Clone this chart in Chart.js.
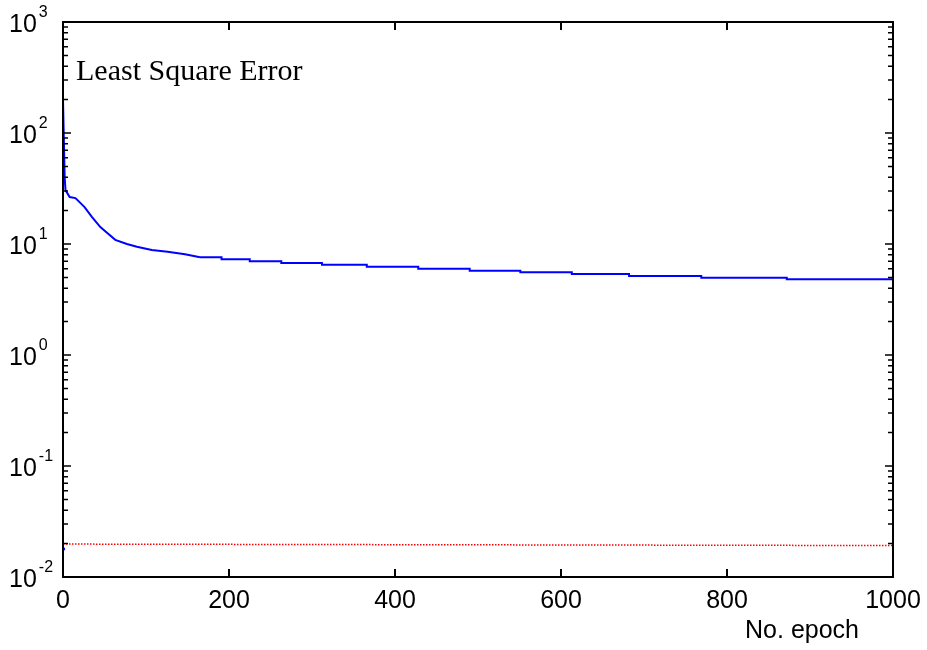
<!DOCTYPE html>
<html>
<head>
<meta charset="utf-8">
<script src="https://cdn.jsdelivr.net/npm/chart.js@4"></script>
<style>
  html, body { margin: 0; padding: 0; background: #fff; }
  canvas { display: block; }
</style>
</head>
<body>
<canvas id="lseChart" width="927" height="650"></canvas>
<script>
// early descent of the error curve (smooth part)
const earlyEpochs = [0, 2, 3, 8, 15, 26, 35, 45, 53, 63, 77, 89, 107, 126, 147, 165];
const earlyLse = [198, 40, 30.6, 26.5, 25.9, 21.5, 17.5, 14.2, 12.6, 10.9, 10.0, 9.46, 8.83, 8.53, 8.07, 7.59];

// plateau, drawn as steps (value starts at that epoch)
const stepEpochs = [165, 191, 225, 263, 312, 366, 428, 490, 551, 613, 682, 769, 872, 1000];
const stepLse = [7.59, 7.28, 6.98, 6.74, 6.51, 6.24, 5.99, 5.74, 5.56, 5.37, 5.15, 4.97, 4.81, 4.81];

// target line (red dotted)
const goalEpochs = [0, 1000];
const goalLse = [0.0198, 0.0192];

// lone blue point near epoch 0
const startEpochs = [0.5];
const startLse = [0.0179];

const xTicks = [0, 200, 400, 600, 800, 1000];
const yTickExps = [-2, -1, 0, 1, 2, 3];

const pts = (xs, ys) => xs.map((x, i) => ({ x: x, y: ys[i] }));

const SANS = '"Liberation Sans", Arial, sans-serif';

// frame, inward ticks and tick labels
const axesPlugin = {
  id: 'matlabAxes',
  afterDraw(chart) {
    const ctx = chart.ctx;
    const a = chart.chartArea;
    const xs = chart.scales.x;
    const ys = chart.scales.y;
    ctx.save();
    ctx.strokeStyle = '#000';
    ctx.lineWidth = 2;
    ctx.strokeRect(a.left, a.top, a.right - a.left, a.bottom - a.top);

    ctx.beginPath();
    xTicks.forEach(v => {
      const px = xs.getPixelForValue(v);
      ctx.moveTo(px, a.bottom); ctx.lineTo(px, a.bottom - 8);
      ctx.moveTo(px, a.top); ctx.lineTo(px, a.top + 8);
    });
    ctx.stroke();

    ctx.lineWidth = 1.5;
    ctx.beginPath();
    yTickExps.forEach(e => {
      const py = ys.getPixelForValue(Math.pow(10, e));
      ctx.moveTo(a.left, py); ctx.lineTo(a.left + 8, py);
      ctx.moveTo(a.right, py); ctx.lineTo(a.right - 8, py);
      if (e < 3) {
        for (let m = 2; m <= 9; m++) {
          const pm = ys.getPixelForValue(m * Math.pow(10, e));
          ctx.moveTo(a.left, pm); ctx.lineTo(a.left + 5, pm);
          ctx.moveTo(a.right, pm); ctx.lineTo(a.right - 5, pm);
        }
      }
    });
    ctx.stroke();

    ctx.fillStyle = '#000';
    ctx.font = '25px ' + SANS;
    ctx.textAlign = 'center';
    ctx.textBaseline = 'middle';
    xTicks.forEach(v => {
      ctx.fillText(String(v), xs.getPixelForValue(v), a.bottom + 24);
    });

    ctx.textAlign = 'left';
    yTickExps.forEach(e => {
      const py = ys.getPixelForValue(Math.pow(10, e));
      ctx.font = '25px ' + SANS;
      ctx.textBaseline = 'middle';
      ctx.fillText('10', 9, py + 3);
      const w = ctx.measureText('10').width;
      ctx.font = '16px ' + SANS;
      ctx.textBaseline = 'alphabetic';
      ctx.fillText(String(e), 9 + w + 2, py - 5);
    });

    ctx.font = '25px ' + SANS;
    ctx.textAlign = 'right';
    ctx.textBaseline = 'middle';
    ctx.fillText('No. epoch', 859, 631);

    ctx.font = '30px "Liberation Serif", "Times New Roman", serif';
    ctx.textAlign = 'left';
    ctx.textBaseline = 'alphabetic';
    ctx.fillText('Least Square Error', a.left + 13, 80);
    ctx.restore();
  }
};

const ctx = document.getElementById('lseChart').getContext('2d');
new Chart(ctx, {
  type: 'line',
  data: {
    datasets: [
      {
        data: pts(earlyEpochs, earlyLse),
        borderColor: 'rgb(0,0,255)',
        borderWidth: 2,
        pointRadius: 0,
        tension: 0
      },
      {
        data: pts(stepEpochs, stepLse),
        borderColor: 'rgb(0,0,255)',
        borderWidth: 2,
        pointRadius: 0,
        stepped: 'before'
      },
      {
        data: pts(goalEpochs, goalLse),
        borderColor: 'rgb(255,0,0)',
        borderWidth: 1.5,
        borderDash: [1.5, 1.5],
        pointRadius: 0
      },
      {
        data: pts(startEpochs, startLse),
        showLine: false,
        pointRadius: 1.8,
        pointBorderWidth: 0,
        pointBackgroundColor: 'rgb(0,0,255)',
        borderColor: 'rgb(0,0,255)'
      }
    ]
  },
  options: {
    responsive: false,
    animation: false,
    layout: { padding: { left: 63, right: 34, top: 22, bottom: 73 } },
    plugins: {
      legend: { display: false },
      tooltip: { enabled: false }
    },
    scales: {
      x: {
        type: 'linear',
        min: 0,
        max: 1000,
        grid: { display: false, drawTicks: false },
        border: { display: false },
        ticks: { display: false },
        afterFit: s => { s.height = 0; }
      },
      y: {
        type: 'logarithmic',
        min: 0.01,
        max: 1000,
        grid: { display: false, drawTicks: false },
        border: { display: false },
        ticks: { display: false },
        afterFit: s => { s.width = 0; }
      }
    }
  },
  plugins: [axesPlugin]
});
</script>
</body>
</html>
